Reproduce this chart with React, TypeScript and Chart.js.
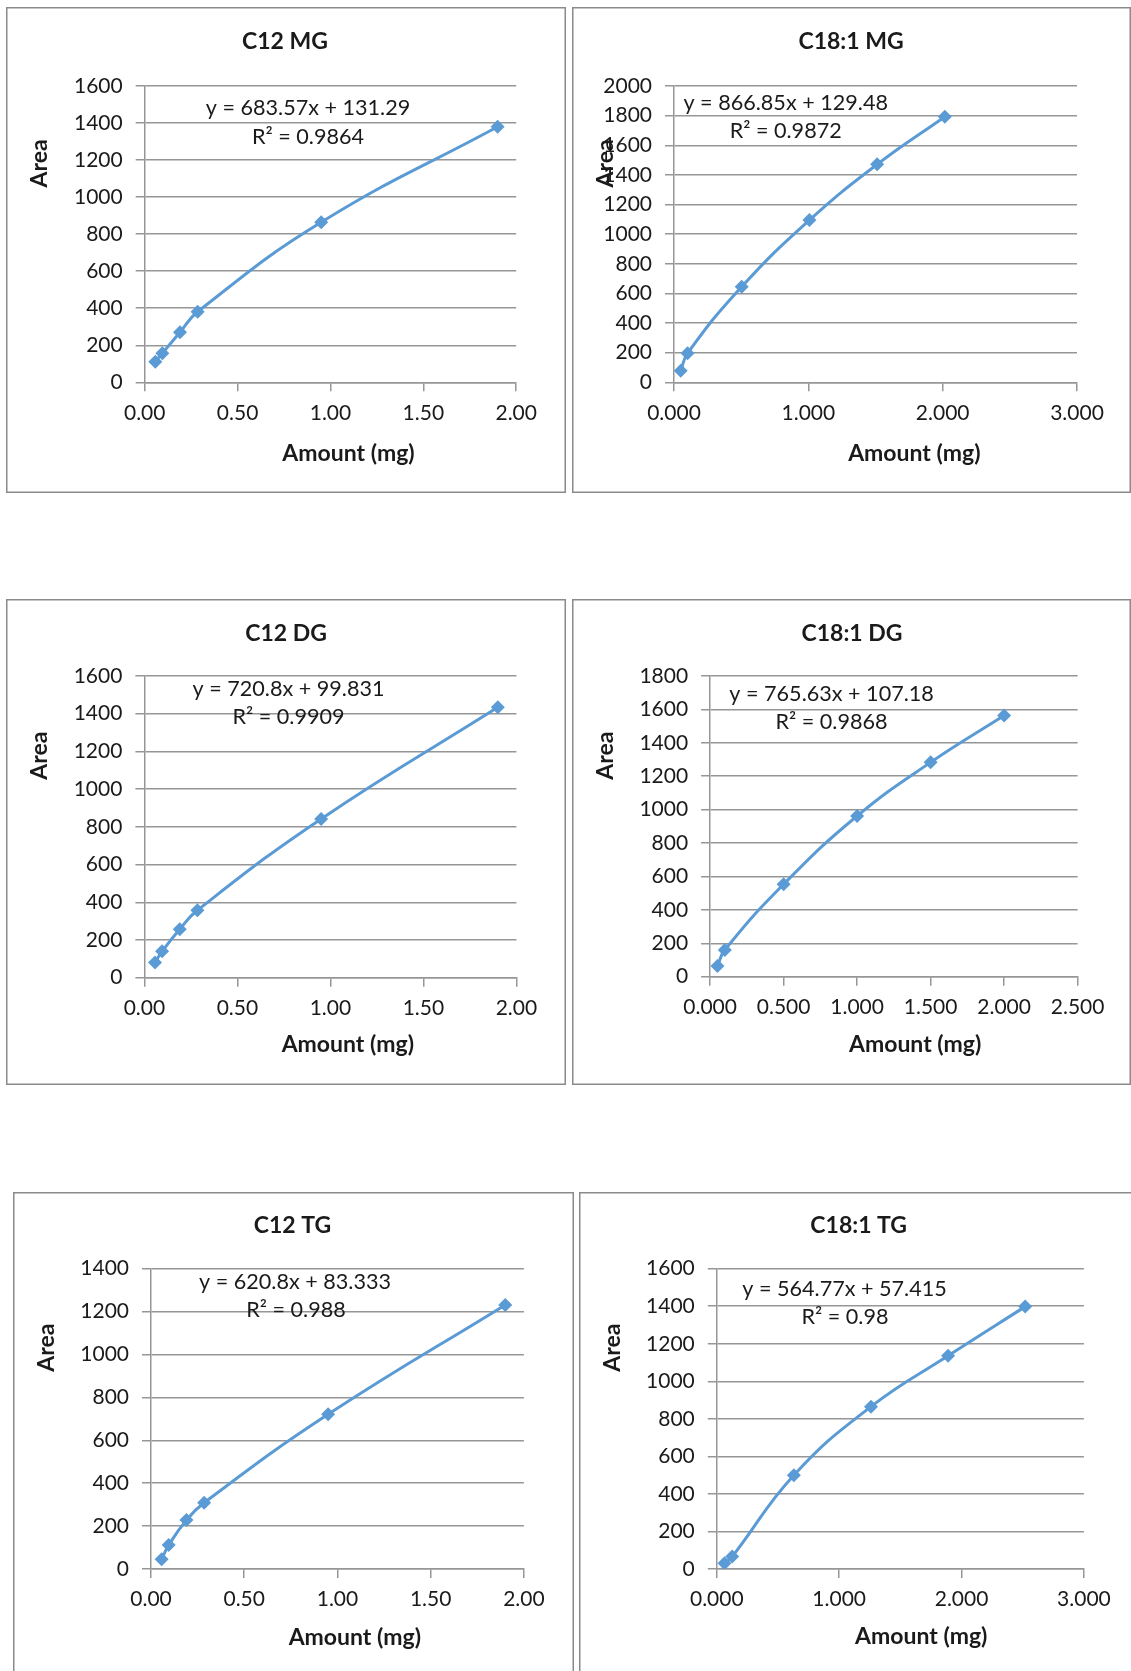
import React, { useEffect, useRef } from 'react';
import { Chart, registerables } from 'chart.js';

Chart.register(...registerables);

// ---- Calibration data: amount injected (mg) vs. peak area ----

// C12 MG
const c12MgAmount = [0.057, 0.095, 0.19, 0.285, 0.95, 1.9];
const c12MgArea = [111, 157, 270, 381, 864, 1380];

// C18:1 MG
const c181MgAmount = [0.05, 0.101, 0.504, 1.008, 1.512, 2.016];
const c181MgArea = [78, 196, 645, 1095, 1471, 1793];

// C12 DG
const c12DgAmount = [0.057, 0.095, 0.19, 0.285, 0.95, 1.9];
const c12DgArea = [80, 140, 257, 358, 842, 1434];

// C18:1 DG
const c181DgAmount = [0.05, 0.1, 0.5, 1.0, 1.5, 2.0];
const c181DgArea = [64, 160, 553, 962, 1283, 1563];

// C12 TG
const c12TgAmount = [0.057, 0.095, 0.19, 0.285, 0.95, 1.9];
const c12TgArea = [45, 112, 228, 309, 721, 1231];

// C18:1 TG
const c181TgAmount = [0.063, 0.126, 0.63, 1.26, 1.89, 2.52];
const c181TgArea = [30, 66, 500, 865, 1136, 1398];

// Linear trendline labels
const trendEquations = [
  'y = 683.57x + 131.29',
  'y = 866.85x + 129.48',
  'y = 720.8x + 99.831',
  'y = 765.63x + 107.18',
  'y = 620.8x + 83.333',
  'y = 564.77x + 57.415',
];
const trendRSquared = [
  'R² = 0.9864',
  'R² = 0.9872',
  'R² = 0.9909',
  'R² = 0.9868',
  'R² = 0.988',
  'R² = 0.98',
];

const panelTitles = ['C12 MG', 'C18:1 MG', 'C12 DG', 'C18:1 DG', 'C12 TG', 'C18:1 TG'];
const xAxisTitle = 'Amount (mg)';
const yAxisTitle = 'Area';

// Axis ranges
const xMaxes = [2, 3, 2, 2.5, 2, 3];
const xSteps = [0.5, 1, 0.5, 0.5, 0.5, 1];
const xDecimals = [2, 3, 2, 3, 2, 3];
const yMaxes = [1600, 2000, 1600, 1800, 1400, 1600];
const yStep = 200;

// ---- Styling ----
const FONT = 'Lato, "Open Sans", "DejaVu Sans", sans-serif';
const SERIES_BLUE = '#5B9BD5';
const GRID_GRAY = '#969696';
const FRAME_GRAY = '#8a8a8a';
const TEXT_DARK = '#1a1a1a';

type Box = { left: number; top: number; right: number; bottom: number };
type Pt = { x: number; y: number };
type Layout = {
  frame: Box;
  plot: Box;
  titleAt: Pt;
  equationAt: Pt;
  rSquaredAt: Pt;
  xTitleAt: Pt;
  yTitleAt: Pt;
};

// Page placement of each chart panel (page pixels)
const layouts: Layout[] = [
  {
    frame: { left: 6, top: 7, right: 565, bottom: 492 },
    plot: { left: 144.7, top: 86, right: 516.2, bottom: 382.3 },
    titleAt: { x: 285, y: 41.7 },
    equationAt: { x: 308, y: 108 },
    rSquaredAt: { x: 308, y: 136.7 },
    xTitleAt: { x: 348.5, y: 453.3 },
    yTitleAt: { x: 39.3, y: 163.3 },
  },
  {
    frame: { left: 572, top: 7, right: 1130, bottom: 492 },
    plot: { left: 674, top: 86, right: 1077, bottom: 382.3 },
    titleAt: { x: 851, y: 41.7 },
    equationAt: { x: 785.7, y: 103.3 },
    rSquaredAt: { x: 785.7, y: 130.7 },
    xTitleAt: { x: 914.3, y: 453.3 },
    yTitleAt: { x: 605.4, y: 163.3 },
  },
  {
    frame: { left: 6, top: 599, right: 565, bottom: 1084 },
    plot: { left: 144.4, top: 676, right: 516.4, bottom: 977.7 },
    titleAt: { x: 286, y: 633.3 },
    equationAt: { x: 288.5, y: 689.3 },
    rSquaredAt: { x: 288.5, y: 716.7 },
    xTitleAt: { x: 347.8, y: 1045 },
    yTitleAt: { x: 39.3, y: 755.7 },
  },
  {
    frame: { left: 572, top: 599, right: 1130, bottom: 1084 },
    plot: { left: 710.1, top: 676, right: 1077.6, bottom: 976.7 },
    titleAt: { x: 852, y: 633.3 },
    equationAt: { x: 831.6, y: 694.3 },
    rSquaredAt: { x: 831.5, y: 721.7 },
    xTitleAt: { x: 915.1, y: 1045 },
    yTitleAt: { x: 605.4, y: 755.7 },
  },
  {
    frame: { left: 13, top: 1192, right: 573, bottom: 1720 },
    plot: { left: 151, top: 1268.7, right: 523.9, bottom: 1569 },
    titleAt: { x: 292.5, y: 1225.7 },
    equationAt: { x: 295, y: 1282.3 },
    rSquaredAt: { x: 296, y: 1310 },
    xTitleAt: { x: 354.8, y: 1637.7 },
    yTitleAt: { x: 46.2, y: 1347.7 },
  },
  {
    frame: { left: 579, top: 1192, right: 1150, bottom: 1720 },
    plot: { left: 716.8, top: 1268.7, right: 1083.9, bottom: 1569 },
    titleAt: { x: 858.7, y: 1225.7 },
    equationAt: { x: 844.5, y: 1289 },
    rSquaredAt: { x: 845, y: 1316.7 },
    xTitleAt: { x: 921.2, y: 1636.7 },
    yTitleAt: { x: 612.2, y: 1347.7 },
  },
];

type PanelSpec = {
  title: string;
  amount: number[];
  area: number[];
  equation: string;
  rSquared: string;
  xMax: number;
  xStep: number;
  xDecimals: number;
  yMax: number;
  layout: Layout;
};

const amounts = [c12MgAmount, c181MgAmount, c12DgAmount, c181DgAmount, c12TgAmount, c181TgAmount];
const areas = [c12MgArea, c181MgArea, c12DgArea, c181DgArea, c12TgArea, c181TgArea];

const panels: PanelSpec[] = panelTitles.map((title, i) => ({
  title,
  amount: amounts[i],
  area: areas[i],
  equation: trendEquations[i],
  rSquared: trendRSquared[i],
  xMax: xMaxes[i],
  xStep: xSteps[i],
  xDecimals: xDecimals[i],
  yMax: yMaxes[i],
  layout: layouts[i],
}));

function CalibrationPanel({ spec }: { spec: PanelSpec }) {
  const ref = useRef<HTMLCanvasElement>(null);
  const { frame, plot } = spec.layout;
  const left = frame.left;
  const top = frame.top;
  const width = frame.right - frame.left + 1;
  const height = frame.bottom - frame.top + 1;

  useEffect(() => {
    const canvas = ref.current;
    if (!canvas) return;
    const lay = spec.layout;
    const points = spec.amount.map((x, i) => ({ x, y: spec.area[i] }));

    const panelText = {
      id: 'panelText',
      beforeDraw(chart: any) {
        const ctx = chart.ctx;
        ctx.save();
        ctx.fillStyle = '#ffffff';
        ctx.fillRect(0, 0, width, height);
        ctx.restore();
      },
      afterDraw(chart: any) {
        const ctx = chart.ctx as CanvasRenderingContext2D;
        ctx.save();
        ctx.strokeStyle = FRAME_GRAY;
        ctx.lineWidth = 1.5;
        ctx.strokeRect(0.75, 0.75, width - 1.5, height - 1.5);

        ctx.fillStyle = TEXT_DARK;
        ctx.textAlign = 'center';
        ctx.textBaseline = 'middle';

        ctx.font = `bold 23px ${FONT}`;
        ctx.fillText(spec.title, lay.titleAt.x - left, lay.titleAt.y - top);

        ctx.font = `21.6px ${FONT}`;
        ctx.fillText(spec.equation, lay.equationAt.x - left, lay.equationAt.y - top);
        ctx.fillText(spec.rSquared, lay.rSquaredAt.x - left, lay.rSquaredAt.y - top);

        ctx.font = `bold 23px ${FONT}`;
        ctx.fillText(xAxisTitle, lay.xTitleAt.x - left, lay.xTitleAt.y - top);

        ctx.translate(lay.yTitleAt.x - left, lay.yTitleAt.y - top);
        ctx.rotate(-Math.PI / 2);
        ctx.fillText(yAxisTitle, 0, 0);
        ctx.restore();
      },
    };

    const tickFont = { family: FONT, size: 21 };

    const chart = new Chart(canvas, {
      type: 'scatter',
      data: {
        datasets: [
          {
            data: points,
            showLine: true,
            borderColor: SERIES_BLUE,
            backgroundColor: SERIES_BLUE,
            borderWidth: 3,
            pointStyle: 'rectRot',
            pointRadius: 7,
            pointBorderWidth: 0,
            pointBackgroundColor: SERIES_BLUE,
            tension: 0.45,
          } as any,
        ],
      },
      options: {
        animation: false,
        responsive: false,
        devicePixelRatio: 1,
        layout: {
          padding: {
            left: 0,
            top: plot.top - top,
            right: left + width - plot.right,
            bottom: 0,
          },
        },
        plugins: {
          legend: { display: false },
          tooltip: { enabled: false },
          title: { display: false },
        },
        scales: {
          x: {
            type: 'linear',
            min: 0,
            max: spec.xMax,
            afterFit: (s: any) => {
              s.height = top + height - plot.bottom;
            },
            ticks: {
              stepSize: spec.xStep,
              autoSkip: false,
              maxRotation: 0,
              padding: 9,
              color: TEXT_DARK,
              font: tickFont,
              callback: (v: any) => Number(v).toFixed(spec.xDecimals),
            },
            grid: {
              drawOnChartArea: false,
              drawTicks: true,
              tickLength: 9,
              color: GRID_GRAY,
              lineWidth: 1.5,
            },
            border: { display: true, color: GRID_GRAY, width: 1.5 },
          },
          y: {
            type: 'linear',
            min: 0,
            max: spec.yMax,
            afterFit: (s: any) => {
              s.width = plot.left - left;
            },
            ticks: {
              stepSize: yStep,
              padding: 13,
              color: TEXT_DARK,
              font: tickFont,
              callback: (v: any) => String(v),
            },
            grid: {
              drawTicks: true,
              tickLength: 9,
              color: GRID_GRAY,
              lineWidth: 1.5,
            },
            border: { display: true, color: GRID_GRAY, width: 1.5 },
          },
        },
      } as any,
      plugins: [panelText],
    });

    return () => chart.destroy();
  }, [spec]);

  return (
    <canvas
      ref={ref}
      width={width}
      height={height}
      style={{ position: 'absolute', left, top, width, height, display: 'block' }}
    />
  );
}

export default function App() {
  return (
    <div
      style={{
        position: 'absolute',
        left: 0,
        top: 0,
        width: 1131,
        height: 1671,
        overflow: 'hidden',
        background: '#ffffff',
      }}
    >
      {panels.map((p) => (
        <CalibrationPanel key={p.title} spec={p} />
      ))}
    </div>
  );
}
